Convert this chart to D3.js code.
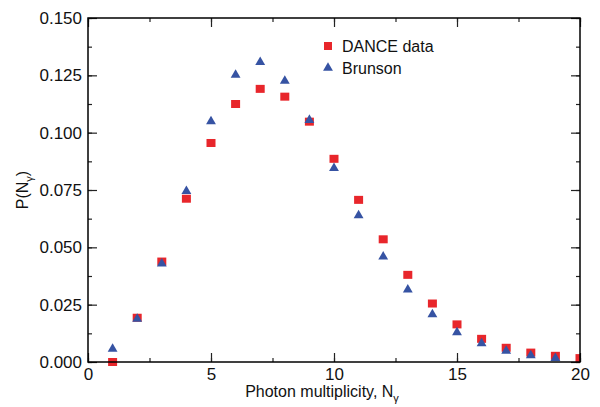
<!DOCTYPE html>
<meta charset="utf-8">
<style>
body { margin: 0; background: white; font-family: 'Liberation Sans', Arial, sans-serif; }
.tick text { font-size: 17px; fill: #111; }
</style>
<body>
<script src="https://cdn.jsdelivr.net/npm/d3@7"></script>
<script>
// photon multiplicity values
var nGamma = [1, 2, 3, 4, 5, 6, 7, 8, 9, 10, 11, 12, 13, 14, 15, 16, 17, 18, 19, 20];
var dance = [0.0000, 0.0193, 0.0438, 0.0712, 0.0955, 0.1125, 0.1191, 0.1157, 0.1048, 0.0886,
  0.0707, 0.0535, 0.0380, 0.0255, 0.0164, 0.0101, 0.0062, 0.0041, 0.0027, 0.0017];
var brunson = [0.0057, 0.0188, 0.0429, 0.0745, 0.1049, 0.1252, 0.1307, 0.1226, 0.1055, 0.0845,
  0.0639, 0.0459, 0.0315, 0.0207, 0.0129, 0.0081, 0.0048, 0.0029, 0.0017, null];
var xTicks = [0, 5, 10, 15, 20];
var yTicks = [0, 0.025, 0.05, 0.075, 0.1, 0.125, 0.15];
var legendNames = ["DANCE data", "Brunson"];

var red = "#e8262b", blue = "#3653a3";

var margin = { top: 18, right: 20, bottom: 45, left: 88 },
  width = 600 - margin.left - margin.right,
  height = 407 - margin.top - margin.bottom;

var svg = d3.select("body").append("svg")
  .attr("width", 600).attr("height", 407)
  .append("g")
  .attr("transform", "translate(" + margin.left + "," + margin.top + ")");

var x = d3.scaleLinear().domain([0, 20]).range([0, width]);
var y = d3.scaleLinear().domain([0, 0.15]).range([height, 0]);

var minorX = d3.range(0, 20.01, 2.5);
var minorY = d3.range(0, 0.1501, 0.0125);

// axes, ticks pointing inward
function tickStyle(g) {
  g.select(".domain").remove();
  g.selectAll(".tick line").attr("stroke", "#222").attr("stroke-width", 1.2);
}
svg.append("g").attr("transform", "translate(0," + height + ")")
  .call(d3.axisBottom(x).tickValues(minorX).tickSize(-4).tickFormat(""))
  .call(tickStyle);
svg.append("g").attr("transform", "translate(0," + height + ")")
  .call(d3.axisBottom(x).tickValues(xTicks).tickSize(-9).tickPadding(6).tickFormat(d3.format("d")))
  .call(tickStyle);
svg.append("g")
  .call(d3.axisTop(x).tickValues(minorX).tickSize(-4).tickFormat(""))
  .call(tickStyle);
svg.append("g")
  .call(d3.axisTop(x).tickValues(xTicks).tickSize(-9).tickFormat(""))
  .call(tickStyle);
svg.append("g")
  .call(d3.axisLeft(y).tickValues(minorY).tickSize(-4).tickFormat(""))
  .call(tickStyle);
svg.append("g")
  .call(d3.axisLeft(y).tickValues(yTicks).tickSize(-9).tickPadding(6).tickFormat(d3.format(".3f")))
  .call(tickStyle);
svg.append("g").attr("transform", "translate(" + width + ",0)")
  .call(d3.axisRight(y).tickValues(minorY).tickSize(-4).tickFormat(""))
  .call(tickStyle);
svg.append("g").attr("transform", "translate(" + width + ",0)")
  .call(d3.axisRight(y).tickValues(yTicks).tickSize(-9).tickFormat(""))
  .call(tickStyle);

svg.selectAll(".tick text").style("font-family", "'Liberation Sans', Arial, sans-serif");

// clip at left/right frame edges
svg.append("clipPath").attr("id", "clip")
  .append("rect").attr("x", 0).attr("y", -20).attr("width", width).attr("height", height + 40);

var pts = svg.append("g").attr("clip-path", "url(#clip)");

var sq = 9;
pts.selectAll(".dance")
  .data(nGamma.map((n, i) => ({ n: n, v: dance[i] })))
  .enter().append("rect")
  .attr("x", d => x(d.n) - sq / 2)
  .attr("y", d => y(d.v) - sq / 2 + 0.5)
  .attr("width", sq).attr("height", sq - 1)
  .attr("fill", red);

var tri = d3.symbol().type(d3.symbolTriangle).size(42);
pts.selectAll(".brunson")
  .data(nGamma.map((n, i) => ({ n: n, v: brunson[i] })).filter(d => d.v !== null))
  .enter().append("path")
  .attr("d", tri)
  .attr("transform", d => "translate(" + x(d.n) + "," + y(d.v) + ")")
  .attr("fill", blue);

// frame
svg.append("rect")
  .attr("width", width).attr("height", height)
  .attr("fill", "none").attr("stroke", "#000").attr("stroke-width", 1.5);

// axis titles
var xt = svg.append("text")
  .attr("x", 234).attr("y", height + 35)
  .attr("text-anchor", "middle")
  .style("font-size", "16px").attr("fill", "#111");
xt.append("tspan").text("Photon multiplicity, N");
xt.append("tspan").attr("dy", 5).style("font-size", "11px").text("γ");

var yt = svg.append("text")
  .attr("transform", "translate(-60," + 172 + ") rotate(-90)")
  .attr("text-anchor", "middle")
  .style("font-size", "16px").attr("fill", "#111");
yt.append("tspan").text("P(N");
yt.append("tspan").attr("dy", 5).style("font-size", "11px").text("γ");
yt.append("tspan").attr("dy", -5).text(")");

// legend
var lg = svg.append("g").attr("transform", "translate(" + (328 - margin.left) + "," + (46 - margin.top) + ")");
lg.append("rect").attr("x", -4).attr("y", -4).attr("width", 8).attr("height", 8).attr("fill", red);
lg.append("path").attr("d", tri).attr("transform", "translate(0,22)").attr("fill", blue);
lg.selectAll("text").data(legendNames).enter().append("text")
  .attr("x", 14).attr("y", (d, i) => 6 + i * 22)
  .style("font-size", "16px").attr("fill", "#111")
  .text(d => d);
</script>
</body>
